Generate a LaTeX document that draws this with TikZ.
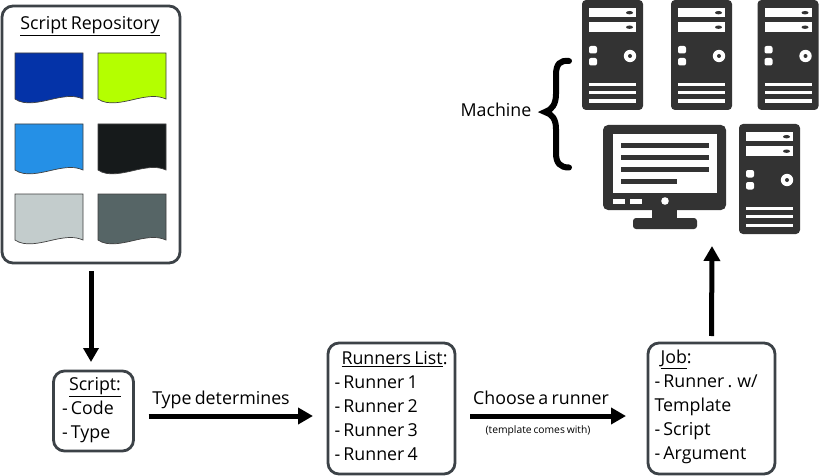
\documentclass[tikz,border=0pt]{standalone}
\usepackage{fontspec}
\setmainfont[WordSpace=0.7]{Open Sans}
\usetikzlibrary{arrows.meta,calc}
\definecolor{boxline}{HTML}{3C4247}
\definecolor{icon}{HTML}{333333}
\definecolor{docA}{HTML}{0433A8}
\definecolor{docB}{HTML}{B4FF00}
\definecolor{docC}{HTML}{2590E6}
\definecolor{docD}{HTML}{161A1B}
\definecolor{docE}{HTML}{C3CCCC}
\definecolor{docF}{HTML}{566566}
\newcommand{\bottompad}[1]{\par\nointerlineskip\vbox to #1{}}
\tikzset{
  x=1pt,y=-1pt,
  every node/.style={font=\fontsize{17.8}{24}\selectfont},
  roundbox/.style={draw=boxline,line width=2.8pt,rounded corners=11pt,inner sep=0pt,outer sep=0pt,align=flush left,fill=white},
  flow/.style={line width=5pt,-{Triangle[length=15pt,width=16pt]}},
  wave/.style={draw=black!75,line width=0.7pt},
  ink/.style={fill=icon,draw=none},
  lit/.style={fill=white,draw=none},
}
\newcommand{\docsheet}[3]{%
  \begin{scope}[shift={(#1,#2)}]
  \path[wave,fill=#3] (0,0) -- (68,0) -- (68,46)
    .. controls (60,42.5) and (52,43) .. (40,45.5)
    .. controls (25,49) and (10,53) .. (0,46) -- cycle;
  \end{scope}}
\newcommand{\towerat}[2]{%
  \begin{scope}[shift={(#1,#2)}]
    \fill[ink,rounded corners=4pt] (0,0) rectangle (61,110);
    \foreach \yy in {8,22.5}{
      \fill[lit] (7,\yy) rectangle (54,\yy+9.5);
      \fill[ink] (47.5,\yy+4.7) ellipse [x radius=3.5,y radius=1.7];
    }
    \foreach \yy in {46,58}
      \fill[lit,rounded corners=2pt] (7,\yy) rectangle (15,\yy+7.5);
    \fill[lit] (48,56) circle [radius=6.2];
    \fill[ink] (48,56) circle [radius=2];
    \foreach \yy in {83,91,99.5}
      \fill[lit] (7,\yy) rectangle (54,\yy+3.3);
  \end{scope}}
\begin{document}
\begin{tikzpicture}
\useasboundingbox (0,0) rectangle (819,476);
% repository
\node[roundbox,minimum width=178pt,minimum height=257pt] (repo) at (91,134.5) {};
\node[anchor=base] (repotitle) at (90,30) {\underline{Script Repository}};
\docsheet{15}{53}{docA}
\docsheet{98}{53}{docB}
\docsheet{15}{124}{docC}
\docsheet{98}{124}{docD}
\docsheet{15}{194}{docE}
\docsheet{98}{194}{docF}
% boxes
\node[roundbox,minimum width=80pt,minimum height=80pt,text width=63pt] (script) at (93.5,411)
  {\hspace*{7pt}\underline{Script:}\\- Code\\- Type\bottompad{2pt}};
\node[roundbox,minimum width=127pt,minimum height=131pt,text width=114pt] (runners) at (391.5,408.5)
  {\hspace*{7pt}\underline{Runners List}:\\- Runner 1\\- Runner 2\\- Runner 3\\- Runner 4\bottompad{4pt}};
\node[roundbox,minimum width=127pt,minimum height=131pt,text width=114pt] (job) at (711.5,408.5)
  {\hspace*{6pt}\underline{Job}:\\- Runner . w/\\Template\\- Script\\- Argument\bottompad{4pt}};
% machines
\towerat{582}{0}
\towerat{671}{0}
\towerat{757.5}{0}
\towerat{739}{124}
\fill[ink,rounded corners=5pt] (603,125) rectangle (726,210);
\fill[lit] (613,134) rectangle (717,193);
\foreach \yy/\xe in {143/709,155/709,167/709,179/677}
  \fill[ink] (621,\yy) rectangle (\xe,\yy+5);
\fill[lit] (613,199) rectangle (625,204);
\fill[lit] (630,199) rectangle (642,204);
\fill[lit] (665,201) circle [radius=3.8];
\fill[ink] (652,208) rectangle (677,220);
\fill[ink,rounded corners=3pt] (633,229) -- (633,218) -- (697,218) -- (697,229) -- cycle;
\coordinate (machines) at (712,246);
% brace
\draw[line width=6pt,line cap=round] (569,61) .. controls (560,60) and (556,64) .. (556,75)
  -- (556,94) .. controls (556,104) and (552,110) .. (545,112)
  .. controls (552,114) and (556,119) .. (556,129) -- (556,153)
  .. controls (556,163) and (560,167.5) .. (569,167.5);
\node[anchor=base] (machinelabel) at (496,116.5) {Machine};
% connectors
\draw[flow,-{Triangle[length=14pt,width=15pt]}] (repo.south) ++(0,8) -- ($(repo.south |- script.north)+(0,-9)$);
\draw[flow] ($(script.east)+(15,5)$) -- ($(runners.west)+(-15,7.5)$);
\draw[flow] ($(runners.east)+(15,7.5)$) -- ($(job.west)+(-22,7.5)$);
\draw[flow] ($(job.north)+(0,-7)$) -- (machines);
% arrow labels
\node[anchor=base] (typelabel) at (221,404) {Type determines};
\node[anchor=base] (chooselabel) at (541,404) {Choose a runner};
\node[anchor=base,font=\fontsize{10.3}{12}\selectfont] (templatelabel) at (538,433) {(template comes with)};
\end{tikzpicture}
\end{document}
